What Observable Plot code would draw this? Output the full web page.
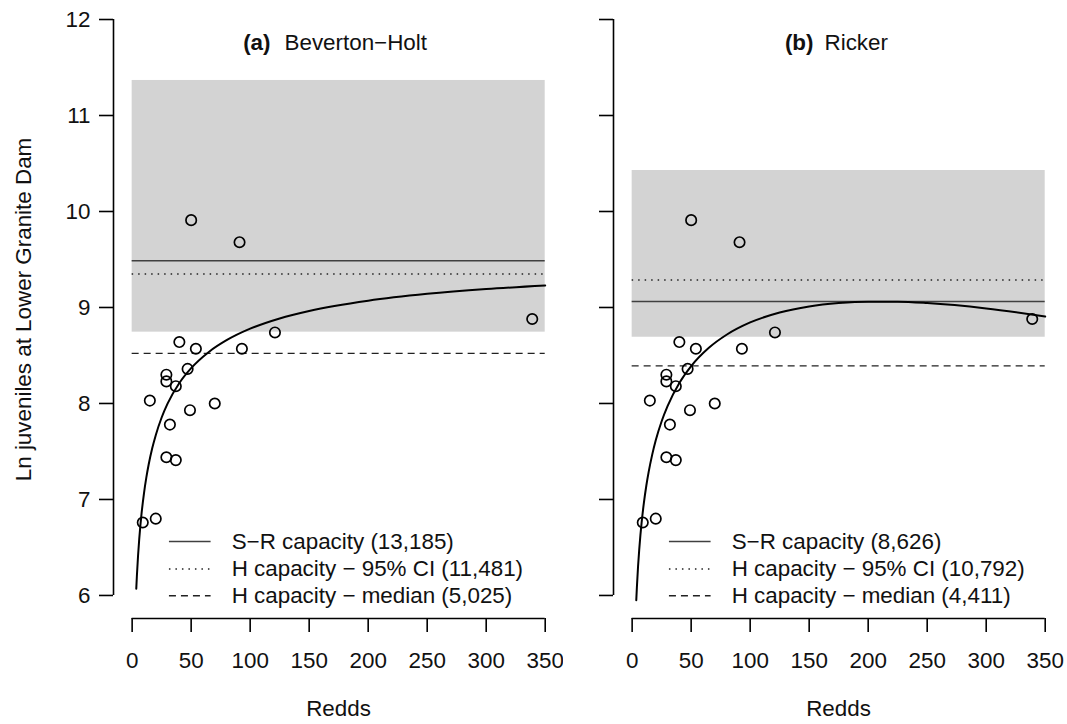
<!DOCTYPE html>
<html>
<head>
<meta charset="utf-8">
<script src="https://cdn.jsdelivr.net/npm/d3@7"></script>
<script src="https://cdn.jsdelivr.net/npm/@observablehq/plot@0.6"></script>
<style>
  html, body { margin: 0; padding: 0; background: #fff; }
  #wrap { display: flex; flex-direction: row; width: 1067px; height: 724px; overflow: hidden; }
  svg { display: block; }
</style>
</head>
<body>
<div id="wrap"></div>
<script>
// ---- data ----
const xTicks = [0, 50, 100, 150, 200, 250, 300, 350];
const yTicks = [6, 7, 8, 9, 10, 11, 12];

// observed redds vs ln juveniles
const redds = [9, 15, 20, 29, 29, 29, 32, 37, 37, 40, 47, 49, 50, 54, 70, 91, 93, 121, 339];
const lnJuv = [6.76, 8.03, 6.80, 8.30, 8.23, 7.44, 7.78, 8.18, 7.41, 8.64, 8.36, 7.93, 9.91, 8.57, 8.00, 9.68, 8.57, 8.74, 8.88];

// fitted Beverton-Holt curve (read)
const bhRedds = [3.5, 4, 5, 6, 7, 8, 10, 12, 14, 17, 20, 25, 30, 40, 50, 65, 80, 100, 125, 150, 200, 250, 300, 350];
const bhLn = [6.071, 6.200, 6.414, 6.587, 6.732, 6.857, 7.062, 7.227, 7.364, 7.533, 7.670, 7.854, 7.998, 8.213, 8.368, 8.537, 8.659, 8.779, 8.886, 8.964, 9.071, 9.142, 9.192, 9.229];

// fitted Ricker curve (read)
const rkRedds = [3.5, 4, 5, 6, 7, 8, 10, 12, 14, 17, 20, 25, 30, 40, 50, 65, 80, 100, 125, 150, 175, 200, 225, 250, 300, 350];
const rkLn = [5.951, 6.082, 6.301, 6.478, 6.628, 6.756, 6.970, 7.143, 7.287, 7.467, 7.616, 7.815, 7.973, 8.213, 8.389, 8.580, 8.716, 8.844, 8.948, 9.011, 9.046, 9.061, 9.060, 9.046, 8.990, 8.906];

// panel-level values
const panelTags = ["(a)", "(b)"];
const panelNames = ["Beverton\u2212Holt", "Ricker"];
const srCapacity = [13185, 8626];
const hCapacityCI = [11481, 10792];
const hCapacityMedian = [5025, 4411];
const bandLow = [8.743, 8.69];
const bandHigh = [11.365, 10.427];

// ---- layout ----
const FONT = "Liberation Sans, Arial, Helvetica, sans-serif";
const FS = 22.4;
const xDomain = [-15.8, 365.5];
const yDomain = [5.76, 12.198];
const legendRowsY = [6.5625, 6.276, 5.997];
const legendLineX = [31.6, 66.9];
const legendTextX = 84.3;

const fmt = d3.format(",");
const curves = [
  bhRedds.map((r, j) => ({r, v: bhLn[j]})),
  rkRedds.map((r, j) => ({r, v: rkLn[j]}))
];
const pts = redds.map((r, j) => ({r, v: lnJuv[j]}));

function panel(i) {
  const left = i === 0;
  const mL = left ? 113 : 50;
  const mR = left ? 0 : 4;
  const W = mL + 450 + mR;
  const xa = xTicks[0], xb = xTicks[xTicks.length - 1];
  const refs = [
    {v: Math.log(srCapacity[i]), dash: null, stroke: "#404040", label: `S\u2212R capacity (${fmt(srCapacity[i])})`},
    {v: Math.log(hCapacityCI[i]), dash: "1.5 5", stroke: "#222", label: `H capacity \u2212 95% CI (${fmt(hCapacityCI[i])})`},
    {v: Math.log(hCapacityMedian[i]), dash: "7 5", stroke: "#222", label: `H capacity \u2212 median (${fmt(hCapacityMedian[i])})`}
  ];
  const marks = [
    Plot.rect([{lo: bandLow[i], hi: bandHigh[i]}], {x1: () => xa, x2: () => xb, y1: "lo", y2: "hi", fill: "#d3d3d3"}),
  ];
  refs.forEach((d, k) => {
    marks.push(Plot.ruleY([d], {y: "v", x1: () => xa, x2: () => xb, stroke: d.stroke, strokeWidth: 1.4, strokeDasharray: d.dash}));
    marks.push(Plot.ruleY([d], {y: () => legendRowsY[k], x1: () => legendLineX[0], x2: () => legendLineX[1], stroke: d.stroke, strokeWidth: 1.4, strokeDasharray: d.dash}));
    marks.push(Plot.text([d], {x: () => legendTextX, y: () => legendRowsY[k], text: "label", textAnchor: "start", lineAnchor: "middle", fontSize: FS, fill: "#111"}));
  });
  marks.push(
    Plot.line(curves[i], {x: "r", y: "v", stroke: "#000", strokeWidth: 2, curve: "monotone-x"}),
    Plot.dot(pts, {x: "r", y: "v", r: 5.2, stroke: "#000", strokeWidth: 1.7, fill: "none"}),
    // axes
    Plot.ruleY([yDomain[0]], {x1: () => xa, x2: () => xb, y: d => d, stroke: "#000", strokeWidth: 1.6}),
    Plot.ruleX([xDomain[0]], {x: d => d, y1: () => yTicks[0], y2: () => yTicks[yTicks.length - 1], stroke: "#000", strokeWidth: 1.6}),
    Plot.axisX({ticks: xTicks, tickSize: 14, tickPadding: 20, fontSize: FS, label: null, strokeWidth: 1.6, stroke: "#000", fill: "#111"}),
    Plot.axisY({ticks: yTicks, tickSize: 14, tickPadding: 9, fontSize: FS, label: null, strokeWidth: 1.6, stroke: "#000", fill: "#111",
      tickFormat: left ? (d => String(d)) : (() => "")}),
    // titles
    Plot.text([panelTags[i]], {frameAnchor: "top", text: d => d, dx: left ? -68 : -25, dy: 42, textAnchor: "end", lineAnchor: "middle", fontWeight: "bold", fontSize: FS, fill: "#111"}),
    Plot.text([panelNames[i]], {frameAnchor: "top", text: d => d, dx: left ? -54 : -14, dy: 42, textAnchor: "start", lineAnchor: "middle", fontSize: FS, fill: "#111"}),
    Plot.text(["Redds"], {frameAnchor: "bottom", text: d => d, dy: 90, textAnchor: "middle", lineAnchor: "middle", fontSize: FS, fill: "#111"})
  );
  if (left) {
    marks.push(Plot.text(["Ln juveniles at Lower Granite Dam"], {frameAnchor: "left", text: d => d, rotate: -90, dx: -90, textAnchor: "middle", lineAnchor: "middle", fontSize: FS, fill: "#111"}));
  }
  return Plot.plot({
    width: W, height: 724,
    marginLeft: mL, marginRight: mR, marginTop: 0, marginBottom: 106,
    x: {domain: xDomain},
    y: {domain: yDomain},
    style: {fontFamily: FONT, fontSize: FS + "px", background: "#fff", color: "#111", overflow: "visible"},
    marks
  });
}

const wrap = document.getElementById("wrap");
wrap.appendChild(panel(0));
wrap.appendChild(panel(1));
</script>
</body>
</html>
